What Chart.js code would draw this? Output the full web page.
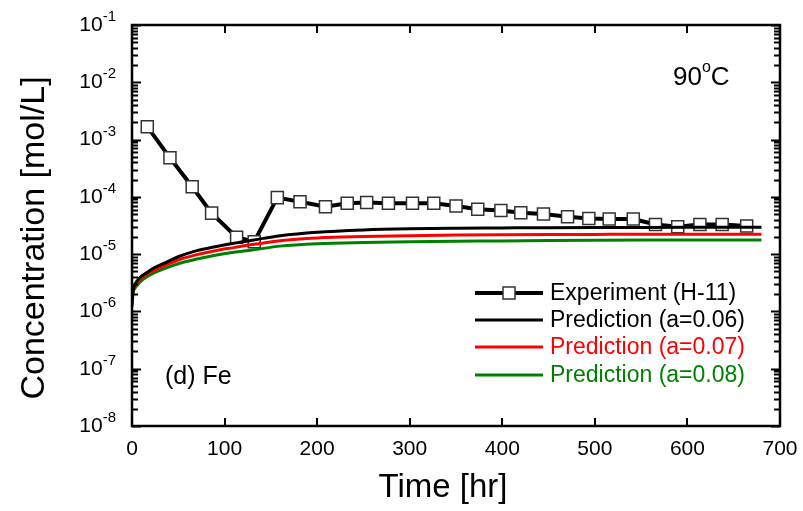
<!DOCTYPE html>
<html>
<head>
<meta charset="utf-8">
<script src="https://cdn.jsdelivr.net/npm/chart.js@4/dist/chart.umd.min.js"></script>
<style>
  html, body { margin: 0; padding: 0; background: #fff; }
  #wrap { width: 803px; height: 511px; position: relative; }
</style>
</head>
<body>
<div id="wrap"><canvas id="c" width="803" height="511"></canvas></div>
<script>
// Measured Fe concentration, run H-11 (hr, mol/L)
const expTime = [16.5, 41, 65, 86, 113, 132, 157, 181.5, 209, 232.5, 253.5, 277, 303, 326, 350, 373.5, 398.5, 420, 444.5, 470.5, 493.5, 515.5, 541.5, 565.5, 589.5, 613.5, 637.5, 664];
const expConc = [1.68e-3, 4.8e-4, 1.5e-4, 5.2e-5, 1.97e-5, 1.65e-5, 9.7e-5, 8.2e-5, 6.7e-5, 7.7e-5, 8.0e-5, 7.7e-5, 7.7e-5, 7.7e-5, 6.9e-5, 6.1e-5, 5.8e-5, 5.3e-5, 5.0e-5, 4.5e-5, 4.2e-5, 4.1e-5, 4.1e-5, 3.3e-5, 3.0e-5, 3.3e-5, 3.3e-5, 3.1e-5];

// Model predictions for three values of a
const predTime = [0, 1, 3, 6, 10, 17, 25, 35, 50, 70, 90, 110, 130, 160, 200, 250, 300, 350, 400, 450, 500, 550, 600, 650, 680];
const predA006 = [1.4e-6, 2.2e-6, 2.9e-6, 3.5e-6, 4.1e-6, 4.9e-6, 5.9e-6, 7.0e-6, 9.0e-6, 1.15e-5, 1.35e-5, 1.55e-5, 1.75e-5, 2.1e-5, 2.42e-5, 2.65e-5, 2.78e-5, 2.84e-5, 2.87e-5, 2.9e-5, 2.92e-5, 2.93e-5, 2.94e-5, 2.95e-5, 2.95e-5];
const predA007 = [1.3e-6, 2.1e-6, 2.7e-6, 3.3e-6, 3.8e-6, 4.6e-6, 5.3e-6, 6.3e-6, 7.9e-6, 9.8e-6, 1.15e-5, 1.3e-5, 1.47e-5, 1.72e-5, 1.92e-5, 2.03e-5, 2.1e-5, 2.15e-5, 2.18e-5, 2.2e-5, 2.21e-5, 2.22e-5, 2.22e-5, 2.22e-5, 2.22e-5];
const predA008 = [1.2e-6, 2.0e-6, 2.5e-6, 2.9e-6, 3.4e-6, 4.1e-6, 4.8e-6, 5.6e-6, 6.8e-6, 8.2e-6, 9.6e-6, 1.08e-5, 1.18e-5, 1.38e-5, 1.52e-5, 1.6e-5, 1.65e-5, 1.68e-5, 1.7e-5, 1.73e-5, 1.75e-5, 1.76e-5, 1.76e-5, 1.76e-5, 1.76e-5];

// Axis ticks
const xTicks = [0, 100, 200, 300, 400, 500, 600, 700];
const yDecades = [-8, -7, -6, -5, -4, -3, -2, -1];

const legendLabels = ['Experiment (H-11)', 'Prediction (a=0.06)', 'Prediction (a=0.07)', 'Prediction (a=0.08)'];
const seriesColors = ['#000000', '#000000', '#ff0000', '#008000'];

const FONT = '"Liberation Sans", Arial, Helvetica, sans-serif';

function pts(xs, ys) { return xs.map((x, i) => ({ x: x, y: ys[i] })); }

const decorations = {
  id: 'decorations',
  afterDatasetsDraw(chart) {
    const ctx = chart.ctx;
    const xs = chart.scales.x, ys = chart.scales.y;
    const { left, right, top, bottom } = chart.chartArea;
    ctx.save();
    ctx.strokeStyle = '#000';
    ctx.fillStyle = '#000';

    // inward ticks on all four sides
    ctx.lineWidth = 2;
    ctx.beginPath();
    xTicks.forEach(v => {
      if (v === xs.min || v === xs.max) return;
      const px = Math.round(xs.getPixelForValue(v));
      ctx.moveTo(px, bottom); ctx.lineTo(px, bottom - 8);
      ctx.moveTo(px, top); ctx.lineTo(px, top + 8);
    });
    yDecades.forEach(d => {
      const py = Math.round(ys.getPixelForValue(Math.pow(10, d))) + 0.5;
      ctx.moveTo(left, py); ctx.lineTo(left + 9, py);
      ctx.moveTo(right, py); ctx.lineTo(right - 9, py);
      if (d < -1) {
        for (let m = 2; m <= 9; m++) {
          const pm = Math.round(ys.getPixelForValue(m * Math.pow(10, d))) + 0.5;
          ctx.moveTo(left, pm); ctx.lineTo(left + 6, pm);
          ctx.moveTo(right, pm); ctx.lineTo(right - 6, pm);
        }
      }
    });
    ctx.stroke();

    // frame
    ctx.lineWidth = 2.5;
    ctx.strokeRect(left, top, right - left, bottom - top);

    // x tick labels
    ctx.font = '21px ' + FONT;
    ctx.textAlign = 'center';
    ctx.textBaseline = 'middle';
    xTicks.forEach(v => {
      ctx.fillText(String(v), xs.getPixelForValue(v), 449);
    });

    // y tick labels: 10 with superscript exponent
    yDecades.forEach(d => {
      const py = ys.getPixelForValue(Math.pow(10, d));
      ctx.font = '21px ' + FONT;
      const wBase = ctx.measureText('10').width;
      ctx.font = '15px ' + FONT;
      const expText = String(d);
      const wExp = ctx.measureText(expText).width;
      const x0 = 116 - wBase - wExp;
      ctx.font = '21px ' + FONT;
      ctx.textAlign = 'left';
      ctx.textBaseline = 'middle';
      ctx.fillText('10', x0, py);
      ctx.font = '15px ' + FONT;
      ctx.textBaseline = 'alphabetic';
      ctx.fillText(expText, x0 + wBase, py - 4);
    });

    // axis titles
    ctx.font = '33px ' + FONT;
    ctx.textAlign = 'center';
    ctx.textBaseline = 'alphabetic';
    ctx.fillText('Time [hr]', 443, 497);
    ctx.save();
    ctx.translate(44, 238);
    ctx.rotate(-Math.PI / 2);
    ctx.font = '34px ' + FONT;
    ctx.fillText('Concentration [mol/L]', 0, 0);
    ctx.restore();

    // temperature label
    ctx.textAlign = 'left';
    ctx.font = '26px ' + FONT;
    ctx.fillText('90', 673, 85);
    let w90 = ctx.measureText('90').width;
    ctx.font = '16px ' + FONT;
    ctx.fillText('o', 673 + w90, 72);
    let wo = ctx.measureText('o').width;
    ctx.font = '26px ' + FONT;
    ctx.fillText('C', 673 + w90 + wo, 85);

    // panel label
    ctx.font = '25px ' + FONT;
    ctx.fillText('(d) Fe', 165, 384);

    // legend
    const rows = [293, 320, 347, 375];
    rows.forEach((ry, i) => {
      ctx.strokeStyle = seriesColors[i];
      ctx.lineWidth = i === 0 ? 4 : 3;
      ctx.beginPath();
      ctx.moveTo(475, ry); ctx.lineTo(543, ry);
      ctx.stroke();
      if (i === 0) {
        ctx.fillStyle = '#fff';
        ctx.fillRect(503, ry - 6, 12, 12);
        ctx.strokeStyle = '#333';
        ctx.lineWidth = 1.5;
        ctx.strokeRect(503, ry - 6, 12, 12);
      }
      ctx.fillStyle = seriesColors[i];
      ctx.font = '23px ' + FONT;
      ctx.textAlign = 'left';
      ctx.textBaseline = 'middle';
      ctx.fillText(legendLabels[i], 550, ry + 1);
    });
    ctx.restore();
  }
};

new Chart(document.getElementById('c'), {
  type: 'line',
  data: {
    datasets: [
      {
        label: legendLabels[1], data: pts(predTime, predA006), order: 0,
        borderColor: seriesColors[1], borderWidth: 3, pointRadius: 0,
        cubicInterpolationMode: 'monotone', fill: false
      },
      {
        label: legendLabels[2], data: pts(predTime, predA007), order: 0,
        borderColor: seriesColors[2], borderWidth: 3, pointRadius: 0,
        cubicInterpolationMode: 'monotone', fill: false
      },
      {
        label: legendLabels[3], data: pts(predTime, predA008), order: 0,
        borderColor: seriesColors[3], borderWidth: 3, pointRadius: 0,
        cubicInterpolationMode: 'monotone', fill: false
      },
      {
        label: legendLabels[0], data: pts(expTime, expConc), order: 1,
        borderColor: '#000', borderWidth: 4, tension: 0,
        pointStyle: 'rect', pointRadius: 8.5, pointBackgroundColor: '#fff',
        pointBorderColor: '#333', pointBorderWidth: 1.5, fill: false
      }
    ]
  },
  options: {
    responsive: false,
    animation: false,
    devicePixelRatio: 1,
    layout: { padding: { left: 0, right: 23, top: 25, bottom: 0 } },
    plugins: { legend: { display: false }, tooltip: { enabled: false } },
    scales: {
      x: {
        type: 'linear', min: 0, max: 700,
        grid: { display: false }, border: { display: false },
        ticks: { display: false },
        afterFit(s) { s.height = 85; }
      },
      y: {
        type: 'logarithmic', min: 1e-8, max: 1e-1,
        grid: { display: false }, border: { display: false },
        ticks: { display: false },
        afterFit(s) { s.width = 132; }
      }
    }
  },
  plugins: [decorations]
});
</script>
</body>
</html>
